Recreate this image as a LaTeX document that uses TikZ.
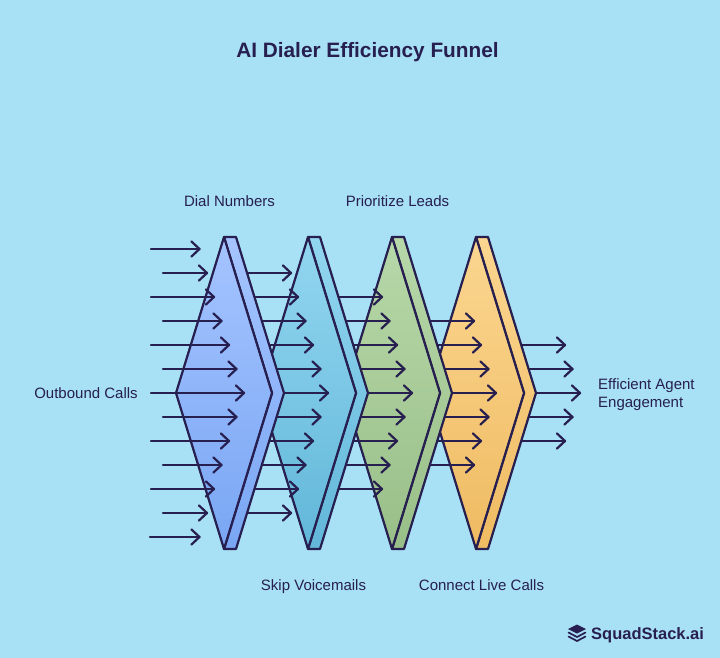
\documentclass[tikz,border=0pt]{standalone}
\usepackage{fontspec}
\setmainfont{Liberation Sans}
\definecolor{bgc}{HTML}{A8E0F6}
\definecolor{ink}{HTML}{261F4F}
\definecolor{atop}{HTML}{A5C4FF}
\definecolor{abot}{HTML}{79A6F3}
\definecolor{btop}{HTML}{92D6F0}
\definecolor{bbot}{HTML}{62B7D9}
\definecolor{ctop}{HTML}{B7D8A9}
\definecolor{cbot}{HTML}{99BF88}
\definecolor{dtop}{HTML}{FBD690}
\definecolor{dbot}{HTML}{EFBB62}
\tikzset{
  x=1pt,y=-1pt,
  arrowline/.style={draw=ink,line width=2.2pt,line cap=round,line join=round},
  outline/.style={draw=ink,line width=2.2pt,line join=round},
  lbl/.style={text=ink,font=\fontsize{15}{18}\selectfont,inner sep=0pt,anchor=base},
}
% #1 tag, #2 left x of top edge, #3 top colour, #4 bottom colour
\newcommand{\slab}[4]{%
  \coordinate (#1t) at (#2,237);
  \coordinate (#1u) at (#2+12,237);
  \coordinate (#1l) at (#2-48,393);
  \coordinate (#1r) at (#2+48,393);
  \coordinate (#1s) at (#2+60,393);
  \coordinate (#1b) at (#2,549);
  \coordinate (#1c) at (#2+12,549);
  \path[outline,top color=#3,middle color=#3!82!#4,bottom color=#4] (#1t) -- (#1u) -- (#1s) -- (#1c) -- (#1b) -- (#1r) -- cycle;
  \path[outline,top color=#3,middle color=#3!82!#4,bottom color=#4] (#1t) -- (#1r) -- (#1b) -- (#1l) -- cycle;
}
% #1 tag, #2 y, #3 start x, #4 tip x
\newcommand{\flow}[4]{%
  \coordinate (#1s) at (#3,#2);
  \coordinate (#1e) at (#4,#2);
  \coordinate (#1p) at (#4-8,#2-7.5);
  \coordinate (#1q) at (#4-8,#2+7.5);
  \draw[arrowline] (#1s) -- (#1e);
  \draw[arrowline] (#1p) -- (#1e) -- (#1q);
}
\begin{document}
\begin{tikzpicture}
\useasboundingbox (0,0) rectangle (720,658);
\fill[bgc] (0,0) rectangle (720,658);
% layer 5 : arrows leaving the last slab
\flow{e1}{345}{485}{565}
\flow{e2}{369}{485}{572.5}
\flow{e3}{393}{485}{580}
\flow{e4}{417}{485}{572.5}
\flow{e5}{441}{485}{565}
\slab{D}{476}{dtop}{dbot}
\flow{d1}{321}{400}{474}
\flow{d2}{345}{400}{481}
\flow{d3}{369}{400}{488.5}
\flow{d4}{393}{400}{496}
\flow{d5}{417}{400}{488.5}
\flow{d6}{441}{400}{481}
\flow{d7}{465}{400}{474}
\slab{C}{392}{ctop}{cbot}
\flow{c1}{297}{315}{382}
\flow{c2}{321}{315}{389.5}
\flow{c3}{345}{315}{397}
\flow{c4}{369}{315}{404.5}
\flow{c5}{393}{315}{412}
\flow{c6}{417}{315}{404.5}
\flow{c7}{441}{315}{397}
\flow{c8}{465}{315}{389.5}
\flow{c9}{489}{315}{382}
\slab{B}{308}{btop}{bbot}
\flow{b1}{273}{232}{291}
\flow{b2}{297}{232}{298}
\flow{b3}{321}{232}{305.5}
\flow{b4}{345}{232}{313}
\flow{b5}{369}{232}{320.5}
\flow{b6}{393}{232}{328}
\flow{b7}{417}{232}{320.5}
\flow{b8}{441}{232}{313}
\flow{b9}{465}{232}{305.5}
\flow{b10}{489}{232}{298}
\flow{b11}{513}{232}{291}
\slab{A}{224}{atop}{abot}
\flow{a1}{249}{151}{199.5}
\flow{a2}{273}{163}{207}
\flow{a3}{297}{151}{214}
\flow{a4}{321}{163}{221.5}
\flow{a5}{345}{151}{229}
\flow{a6}{369}{163}{236.5}
\flow{a7}{393}{151}{244}
\flow{a8}{417}{163}{236.5}
\flow{a9}{441}{151}{229}
\flow{a10}{465}{163}{221.5}
\flow{a11}{489}{151}{214}
\flow{a12}{513}{163}{207}
\flow{a13}{537}{150}{199.5}
% labels
\node[text=ink,inner sep=0pt,anchor=base,font=\fontsize{20.8}{24}\selectfont\bfseries] (title) at (367.5,58) {AI Dialer Efficiency Funnel};
\node[lbl] (l1) at (229.5,206) {Dial Numbers};
\node[lbl] (l2) at (397.5,206) {Prioritize Leads};
\node[lbl] (l3) at (86,398) {Outbound Calls};
\node[lbl] (l4) at (313.5,590) {Skip Voicemails};
\node[lbl] (l5) at (481.5,590) {Connect Live Calls};
\node[lbl,anchor=base west] (l6) at (598,389) {Efficient Agent};
\node[lbl,anchor=base west] (l7) at (598,407) {Engagement};
% logo
\node[text=ink,inner sep=0pt,anchor=base west,font=\fontsize{16.5}{20}\selectfont\bfseries] (logo) at (591,639) {SquadStack.ai};
\fill[ink] (577,624.5) -- (586,629) -- (577,633.5) -- (568,629) -- cycle;
\draw[ink,line width=1.7pt,line join=round,line cap=round] (568.5,632.5) -- (577,637) -- (585.5,632.5);
\draw[ink,line width=1.7pt,line join=round,line cap=round] (568.5,636.5) -- (577,641) -- (585.5,636.5);
\end{tikzpicture}
\end{document}
